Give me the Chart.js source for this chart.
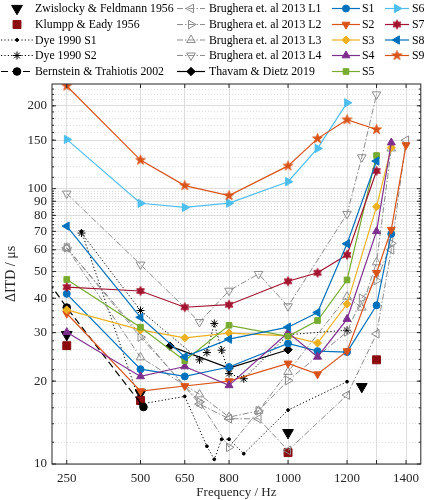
<!DOCTYPE html>
<html>
<head>
<meta charset="utf-8">
<script src="https://cdn.jsdelivr.net/npm/chart.js@4.4.1/dist/chart.umd.min.js"></script>
<style>
    html, body { margin: 0; padding: 0; background: #fff; }
    #wrap { position: relative; width: 428px; height: 500px; }
</style>
</head>
<body>
<div id="wrap"><canvas id="itdChart"></canvas></div>
<script>
// Values (ITD thresholds in microseconds)
const sFreq = [250, 500, 650, 800, 1000, 1100, 1200, 1300, 1350, 1400];
const s1 = [41.5, 22.1, 20.8, 22.5, 27.4, 25.7, 25.5, 37.7, 68.5, null];
const s2 = [35.2, 18.4, 19.2, 20.0, 23.2, 21.2, 25.7, 49.5, 71, 144];
const s3 = [36.3, 30.7, 28.7, 29.9, 29.2, 27.5, 38.1, 86, 141, null];
const s4 = [30.1, 20.8, 22.6, 19.3, 30.0, 24.5, 33.6, 70, 147, null];
const s5 = [46.8, 31.4, 23.7, 31.9, 29.1, 33.2, 46.6, 132, null, null];
const s6 = [151, 88.5, 85.5, 88.6, 106, 140, 205, null, null, null];
const s7 = [43.9, 42.5, 37.1, 37.9, 46.1, 49.5, 57.5, 116, null, null];
const s8 = [73.1, 34.1, 24.5, 28.4, 31.4, 35.5, 63.1, 126, null, null];
const s9 = [236, 127, 102.6, 94.4, 121, 152, 178, 164, null, null];

const brugFreq = [250, 500, 700, 800, 900, 1000, 1200, 1250, 1300, 1350, 1400];
const brugL1 = [61, null, 16.5, 14.6, 14.6, 11.2, 17.8, null, 29.7, 60, 150];
const brugL2 = [61, 28.9, 16.8, 11.5, 15.6, 20.1, 30.2, 40, 46.4, 63.3, null];
const brugL3 = [61, 24.4, 17.9, 14.8, 15.6, 21.6, 40.5, 37, 54, 140, null];
const brugL4 = [96, 53, 32.8, 42.6, 49, 37.4, 81, 130, 220, null, null];

const dyeFreq = [300, 500, 650, 700, 725, 750, 775, 800, 850, 1000, 1200];
const dyeS1 = [70, 16.5, 17.6, null, 11.6, 10.4, 12.3, 12.3, 10.9, 15.7, 19.9];
const dyeS2 = [69, 36.1, null, 23.9, 25.4, 32.4, 25.9, 21.3, 20.4, 29.5, 30.6];

const zwisFreq = [250, 500, 1000, 1250];
const zwisVals = [29.5, 18.1, 13.0, 19.1];
const klumppFreq = [250, 500, 1000, 1300];
const klumppVals = [26.9, 17.0, 11.0, 23.9];
const bernFreq = [125, 250, 510];
const bernVals = [57, 37, 16.1];
const thavFreq = [600, 800, 1000];
const thavVals = [26.8, 22.3, 26.0];

const xTicks = [250, 500, 650, 800, 1000, 1200, 1300, 1400];
const xLabelled = [250, 500, 650, 800, 1000, 1200, 1400];
const yTicks = [10, 20, 30, 40, 50, 60, 70, 80, 90, 100, 150, 200];

// minor grid: every 2 below 100, every 10 above
const yMinorTicks = [];
for (let v = 12; v < 100; v += 2) yMinorTicks.push(v);
for (let v = 110; v <= 230; v += 10) yMinorTicks.push(v);

const FONT = '"Liberation Serif", "DejaVu Serif", serif';
const INK = '#262626';
const GREY = '#8c8c8c';

function pts(xs, ys) {
    return xs.map((x, i) => ({ x: x, y: ys[i] }));
}

// pentagram / hexagram markers as small canvases
function starCanvas(n, innerRatio, r, fill) {
    const size = Math.ceil(r * 2 + 2);
    const c = document.createElement('canvas');
    c.width = size;
    c.height = size;
    const g = c.getContext('2d');
    g.translate(size / 2, size / 2);
    g.beginPath();
    for (let i = 0; i < 2 * n; i++) {
        const rad = i % 2 === 0 ? r : r * innerRatio;
        const a = -Math.PI / 2 + i * Math.PI / n;
        g.lineTo(Math.cos(a) * rad, Math.sin(a) * rad);
    }
    g.closePath();
    g.fillStyle = fill;
    g.fill();
    g.strokeStyle = fill;
    g.lineWidth = 0.8;
    g.stroke();
    return c;
}

function series(label, xs, ys, opts) {
    return Object.assign({
        label: label,
        data: pts(xs, ys),
        spanGaps: true,
        tension: 0,
        borderWidth: 1.2,
        pointBorderWidth: 1,
        pointRadius: 4,
        pointHoverRadius: 4
    }, opts);
}

function sLine(label, ys, color, style, rotation, radius) {
    return series(label, sFreq, ys, {
        borderColor: color,
        pointBackgroundColor: color,
        pointBorderColor: color,
        pointStyle: style,
        pointRotation: rotation || 0,
        pointRadius: radius || 4
    });
}

function brugLine(label, ys, rotation) {
    return series(label, brugFreq, ys, {
        borderColor: GREY,
        borderWidth: 1,
        borderDash: [6, 2, 1.5, 2],
        pointStyle: 'triangle',
        pointRotation: rotation,
        pointRadius: 5,
        pointBackgroundColor: 'rgba(255,255,255,0)',
        pointBorderColor: GREY
    });
}

const datasets = [
    // column 1
    series('Zwislocky & Feldmann 1956', zwisFreq, zwisVals, {
        showLine: false, pointStyle: 'triangle', pointRotation: 180, pointRadius: 6.2,
        borderColor: '#000', pointBackgroundColor: '#000', pointBorderColor: '#000'
    }),
    series('Klumpp & Eady 1956', klumppFreq, klumppVals, {
        showLine: false, pointStyle: 'rect', pointRadius: 5.6,
        borderColor: '#8b0d0d', pointBackgroundColor: '#8b0d0d', pointBorderColor: '#8b0d0d'
    }),
    series('Dye 1990 S1', dyeFreq, dyeS1, {
        borderColor: '#000', borderWidth: 1, borderDash: [1.2, 2.2],
        pointStyle: 'circle', pointRadius: 1.4,
        pointBackgroundColor: '#000', pointBorderColor: '#000'
    }),
    series('Dye 1990 S2', dyeFreq, dyeS2, {
        borderColor: '#000', borderWidth: 1, borderDash: [1.2, 2.2],
        pointStyle: 'star', pointRadius: 4,
        pointBackgroundColor: '#000', pointBorderColor: '#000'
    }),
    series('Bernstein & Trahiotis 2002', bernFreq, bernVals, {
        borderColor: '#000', borderWidth: 1.2, borderDash: [7, 4],
        pointStyle: 'circle', pointRadius: 3.8,
        pointBackgroundColor: '#000', pointBorderColor: '#000'
    }),
    // column 2
    brugLine('Brughera et. al 2013 L1', brugL1, 270),
    brugLine('Brughera et. al 2013 L2', brugL2, 90),
    brugLine('Brughera et. al 2013 L3', brugL3, 0),
    brugLine('Brughera et. al 2013 L4', brugL4, 180),
    series('Thavam & Dietz 2019', thavFreq, thavVals, {
        borderColor: '#000', pointStyle: 'rectRot', pointRadius: 4.2,
        pointBackgroundColor: '#000', pointBorderColor: '#000'
    }),
    // column 3
    sLine('S1', s1, '#0072BD', 'circle', 0, 3.5),
    sLine('S2', s2, '#D95319', 'triangle', 180, 4.6),
    sLine('S3', s3, '#EDB120', 'rectRot', 0, 4),
    sLine('S4', s4, '#7E2F8E', 'triangle', 0, 4.6),
    sLine('S5', s5, '#77AC30', 'rect', 0, 4),
    // column 4
    sLine('S6', s6, '#4DBEEE', 'triangle', 90, 4.8),
    sLine('S7', s7, '#A2142F', starCanvas(6, 0.577, 4.6, '#A2142F')),
    sLine('S8', s8, '#0072BD', 'triangle', 270, 4.8),
    sLine('S9', s9, '#D95319', starCanvas(5, 0.4, 5.2, '#D95319'))
];
// later series drawn on top, as in the original
datasets.forEach((d, i) => { d.order = datasets.length - i; });

// legend in 4 columns of 5 rows, drawn above the plot
const legendRows = [8.5, 24.5, 40, 55.5, 71.5];
const legendCols = [
    { x0: 1, x1: 33, text: 35 },
    { x0: 177, x1: 205, text: 209 },
    { x0: 332, x1: 360, text: 362 },
    { x0: 385, x1: 409, text: 412 }
];

const columnLegend = {
    id: 'columnLegend',
    afterDraw(chart) {
        const ctx = chart.ctx;
        ctx.save();
        chart.data.datasets.forEach((ds, i) => {
            const col = legendCols[Math.floor(i / 5)];
            const y = legendRows[i % 5];
            if (ds.showLine !== false) {
                ctx.beginPath();
                ctx.setLineDash(ds.borderDash || []);
                ctx.strokeStyle = ds.borderColor;
                ctx.lineWidth = ds.borderWidth;
                ctx.moveTo(col.x0, y);
                ctx.lineTo(col.x1, y);
                ctx.stroke();
            }
            ctx.setLineDash([]);
            ctx.fillStyle = ds.pointBackgroundColor;
            ctx.strokeStyle = ds.pointBorderColor;
            ctx.lineWidth = ds.pointBorderWidth;
            Chart.helpers.drawPoint(ctx, {
                pointStyle: ds.pointStyle,
                radius: ds.pointRadius,
                rotation: ds.pointRotation || 0,
                borderWidth: ds.pointBorderWidth
            }, (col.x0 + col.x1) / 2, y);
            ctx.fillStyle = '#000';
            ctx.font = '11.8px ' + FONT;
            ctx.textBaseline = 'middle';
            ctx.textAlign = 'left';
            ctx.fillText(ds.label, col.text, y + 0.5);
        });
        ctx.restore();
    }
};

// box round the plot with inward tick marks
const plotFrame = {
    id: 'plotFrame',
    afterDatasetsDraw(chart) {
        const { ctx, chartArea: a, scales } = chart;
        ctx.save();
        ctx.strokeStyle = INK;
        ctx.lineWidth = 1;
        ctx.setLineDash([]);
        ctx.beginPath();
        yTicks.forEach(v => {
            const py = scales.y.getPixelForValue(v);
            ctx.moveTo(a.left, py); ctx.lineTo(a.left + 4, py);
            ctx.moveTo(a.right, py); ctx.lineTo(a.right - 4, py);
        });
        yMinorTicks.forEach(v => {
            const py = scales.y.getPixelForValue(v);
            ctx.moveTo(a.left, py); ctx.lineTo(a.left + 2, py);
            ctx.moveTo(a.right, py); ctx.lineTo(a.right - 2, py);
        });
        xTicks.forEach(v => {
            const px = scales.x.getPixelForValue(v);
            ctx.moveTo(px, a.bottom); ctx.lineTo(px, a.bottom - 4);
            ctx.moveTo(px, a.top); ctx.lineTo(px, a.top + 4);
        });
        ctx.stroke();
        ctx.strokeRect(a.left, a.top, a.right - a.left, a.bottom - a.top);
        ctx.restore();
    }
};

new Chart(document.getElementById('itdChart').getContext('2d'), {
    type: 'line',
    data: { datasets: datasets },
    options: {
        responsive: true,
        maintainAspectRatio: false,
        animation: false,
        layout: { padding: { top: 84, right: 5, left: 0, bottom: 0 } },
        plugins: {
            legend: { display: false },
            tooltip: { enabled: false }
        },
        scales: {
            x: {
                type: 'linear',
                min: 200,
                max: 1450,
                afterBuildTicks: scale => {
                    scale.ticks = xTicks.map(v => ({ value: v }));
                },
                afterFit: scale => { scale.height = 36; },
                border: { display: false },
                grid: { color: '#dedede', lineWidth: 1, drawTicks: false },
                ticks: {
                    color: INK,
                    padding: 7,
                    maxRotation: 0,
                    autoSkip: false,
                    font: { family: FONT, size: 13 },
                    callback: v => (xLabelled.includes(v) ? String(v) : '')
                },
                title: {
                    display: true,
                    text: 'Frequency / Hz',
                    color: INK,
                    padding: { top: 0, bottom: 0 },
                    font: { family: FONT, size: 13 }
                }
            },
            yMinor: {
                type: 'logarithmic',
                position: 'left',
                min: 10,
                max: 240,
                afterBuildTicks: scale => {
                    scale.ticks = yMinorTicks.map(v => ({ value: v }));
                },
                afterFit: scale => { scale.width = 0; },
                border: { display: false, dash: [1, 2] },
                grid: { color: '#d6d6d6', lineWidth: 0.8, drawTicks: false },
                ticks: { display: false }
            },
            y: {
                type: 'logarithmic',
                position: 'left',
                min: 10,
                max: 240,
                afterBuildTicks: scale => {
                    scale.ticks = yTicks.map(v => ({ value: v }));
                },
                afterFit: scale => { scale.width = 52; },
                border: { display: false },
                grid: { color: '#dedede', lineWidth: 1, drawTicks: false },
                ticks: {
                    color: INK,
                    padding: 5,
                    autoSkip: false,
                    font: { family: FONT, size: 13 },
                    callback: v => String(v)
                },
                title: {
                    display: true,
                    text: 'ΔITD / μs',
                    color: INK,
                    padding: { top: 3, bottom: 0 },
                    font: { family: FONT, size: 14 }
                }
            }
        }
    },
    plugins: [plotFrame, columnLegend]
});
</script>
</body>
</html>
